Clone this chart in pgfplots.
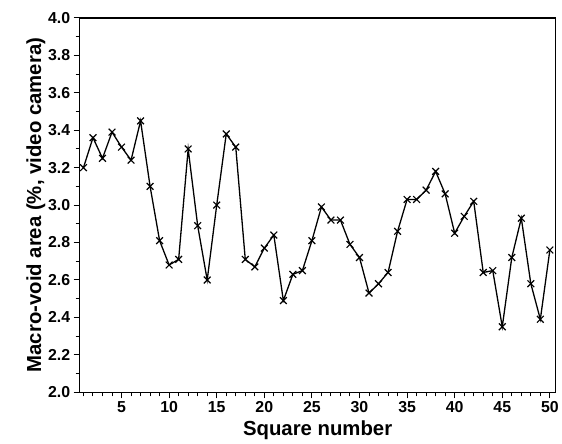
\documentclass[border=0pt]{standalone}
\usepackage{fontspec}
\setmainfont{Liberation Sans}
\usepackage{pgfplots}
\pgfplotsset{compat=1.18}

\begin{document}
\begin{tikzpicture}
\begin{axis}[
  scale only axis, width=478bp, height=376bp,
  xmin=0.6, xmax=50.6, ymin=2.0, ymax=4.0,
  xtick={5,10,...,50},
  minor xtick={1,...,50},
  ytick={2.0,2.2,...,4.01},
  minor ytick={2.1,2.3,...,3.91},
  tick align=outside,
  major tick length=6bp, minor tick length=4bp,
  tick style={black, line width=1bp},
  axis line style={line width=1.4bp},
  xtick pos=bottom, ytick pos=left,
  yticklabel style={/pgf/number format/.cd, fixed, fixed zerofill, precision=1},
  /pgf/number format/assume math mode=true,
  ticklabel style={font=\bfseries\fontsize{16}{19}\selectfont},
  label style={font=\bfseries\fontsize{20.5}{24}\selectfont},
  xlabel={Square number},
  ylabel={Macro-void area (\%, video camera)},
  xlabel style={yshift=-1bp},
  ylabel style={yshift=-4bp},
]
\addplot[black, line width=1.3bp, mark=x, mark size=4.8bp, mark options={line width=1.2bp}] coordinates {
(1,3.20)(2,3.36)(3,3.25)(4,3.39)(5,3.31)(6,3.24)(7,3.45)(8,3.10)(9,2.81)(10,2.68)
(11,2.71)(12,3.30)(13,2.89)(14,2.60)(15,3.00)(16,3.38)(17,3.31)(18,2.71)(19,2.67)(20,2.77)
(21,2.84)(22,2.49)(23,2.63)(24,2.65)(25,2.81)(26,2.99)(27,2.92)(28,2.92)(29,2.79)(30,2.72)
(31,2.53)(32,2.58)(33,2.64)(34,2.86)(35,3.03)(36,3.03)(37,3.08)(38,3.18)(39,3.06)(40,2.85)
(41,2.94)(42,3.02)(43,2.64)(44,2.65)(45,2.35)(46,2.72)(47,2.93)(48,2.58)(49,2.39)(50,2.76)
};
\end{axis}
\path ([shift={(-80bp,-49bp)}]current axis.south west) rectangle ([shift={(4bp,18bp)}]current axis.north east);
\end{tikzpicture}
\end{document}
